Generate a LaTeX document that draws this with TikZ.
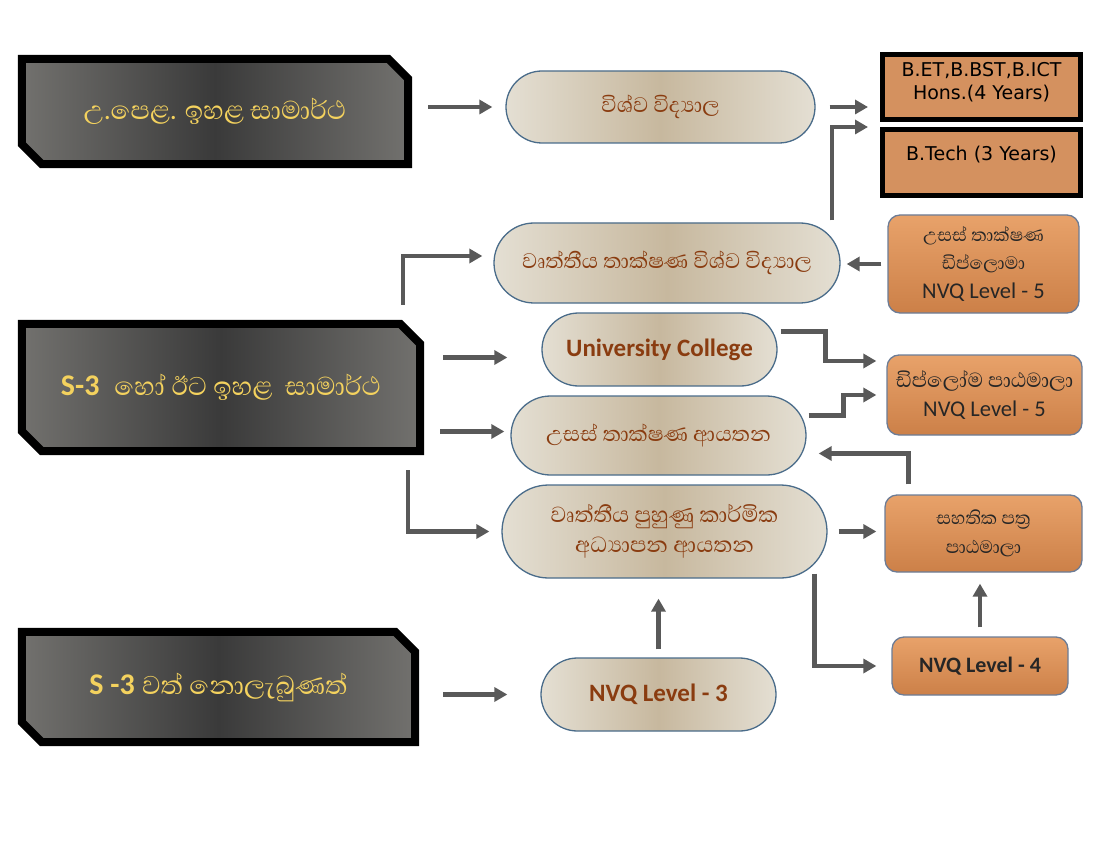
\documentclass[tikz,border=0pt]{standalone}
\usepackage{fontspec}
\setmainfont{Carlito}
\newfontfamily\sinfont[Script=Sinhala]{Abhaya Libre}
\newfontfamily\dvfont{DejaVu Sans}
\usetikzlibrary{shapes.misc,arrows.meta,calc,backgrounds}
\definecolor{dkedge}{RGB}{114,113,110}
\definecolor{dkmid}{RGB}{58,58,58}
\definecolor{gold}{RGB}{244,210,94}
\definecolor{pilledge}{RGB}{228,223,211}
\definecolor{pillmid}{RGB}{199,184,158}
\definecolor{pillline}{RGB}{74,108,138}
\definecolor{orgtop}{RGB}{232,162,106}
\definecolor{orgbot}{RGB}{204,128,72}
\definecolor{orgline}{RGB}{108,124,150}
\definecolor{degfill}{RGB}{212,145,95}
\definecolor{brn}{RGB}{138,60,16}
\definecolor{arrgray}{RGB}{89,89,89}
\newcommand{\fs}[2]{\fontsize{#1}{#2}\selectfont}
\newcommand{\chamferframe}[1]{
  \begin{scope}[on background layer]
    \draw[darkframe] (#1.north west) -- ($(#1.north east)+(-20,0)$) -- ($(#1.north east)+(0,20)$)
      -- (#1.south east) -- ($(#1.south west)+(20,0)$) -- ($(#1.south west)+(0,-20)$) -- cycle;
  \end{scope}
}
\tikzset{
  darkbox/.style={rectangle, inner sep=0pt, text=gold, font=\fs{33}{38}},
  darkframe/.style={draw=black, line width=8pt, left color=dkedge, right color=dkedge, middle color=dkmid},
  pill/.style={rounded rectangle, draw=pillline, line width=1.3pt, left color=pilledge,
    right color=pilledge, middle color=pillmid, text=brn, inner sep=0pt, align=center, font=\fs{27}{30}},
  orgbox/.style={rectangle, rounded corners=12pt, draw=orgline, line width=1.3pt, top color=orgtop,
    bottom color=orgbot, text=black!85, inner sep=0pt, align=center, font=\fs{23}{28.5}},
  degbox/.style={rectangle, draw=black, line width=5pt, fill=degfill, inner sep=0pt, align=center,
    font=\dvfont\fs{19}{23}},
  arr/.style={draw=arrgray, line width=4.5pt, -{Triangle[length=13pt,width=14pt]}}
}

\begin{document}
\begin{tikzpicture}[x=1pt,y=-1pt]
\useasboundingbox (0,0) rectangle (1100,850);

\node[darkbox, minimum width=386, minimum height=105] (boxA) at (215,111.5) {\sinfont උ.පෙළ. ඉහළ සාමාර්ථ};
\node[darkbox, minimum width=398, minimum height=127] (boxB) at (221,387.5) {{\fs{30}{36}\bfseries S-3}\ \ {\sinfont හෝ ඊට ඉහළ\ \ සාමාර්ථ}};
\node[darkbox, minimum width=393, minimum height=110] (boxC) at (218.5,687) {{\fs{30}{36}\bfseries S -3} {\sinfont වත් නොලැබුණත්}};
\chamferframe{boxA}\chamferframe{boxB}\chamferframe{boxC}

\node[pill, minimum width=309, minimum height=72] (uni) at (660.5,107) {\sinfont විශ්ව විද්^^^^200dයාල};
\node[pill, minimum width=346, minimum height=80] (vtu) at (667,263) {\sinfont වෘත්තීය තාක්ෂණ විශ්ව විද්^^^^200dයාල};
\node[pill, minimum width=235, minimum height=73, font=\fs{25}{28}\bfseries] (uc) at (659.5,349.5) {University College};
\node[pill, minimum width=295, minimum height=79] (ut) at (658.5,435.5) {\sinfont උසස් තාක්ෂණ ආයතන};
\node[pill, minimum width=325, minimum height=93, font=\fs{28}{30}] (voc) at (664.5,531.5) {{\sinfont වෘත්තීය පුහුණු කාර්මික}\\{\sinfont අධ්^^^^200dයාපන ආයතන}};
\node[pill, minimum width=235, minimum height=73, font=\fs{25}{28}\bfseries] (nvq3) at (658.5,694.5) {NVQ Level - 3};

\node[orgbox, minimum width=191, minimum height=98] (hnd) at (983.5,264) {{\sinfont උසස් තාක්ෂණ}\\{\sinfont ඩිප්ලොමා}\\{\fs{22.5}{28}NVQ Level - 5}};
\node[orgbox, minimum width=195, minimum height=80] (dipl) at (984.5,395) {{\fs{26}{28}\sinfont ඩිප්ලෝම පාඨමාලා}\\{\fs{22.5}{28}NVQ Level - 5}};
\node[orgbox, minimum width=197, minimum height=77] (cert) at (983.5,533.5) {{\sinfont සහතික පත්^^^^200dර}\\{\sinfont පාඨමාලා}};
\node[orgbox, minimum width=176, minimum height=58, font=\fs{22}{28}\bfseries] (nvq4) at (980,666) {NVQ Level - 4};

\node[degbox, minimum width=198, minimum height=65, text depth=12pt] (bsc) at (981.5,87) {B.ET,B.BST,B.ICT\\Hons.(4 Years)};
\node[degbox, minimum width=198, minimum height=66, text depth=18pt] (btech) at (981.5,162.5) {B.Tech (3 Years)};

\draw[arr, shorten <=20pt, shorten >=13pt] (boxA.east |- uni.west) -- (uni.west);
\draw[arr, shorten <=14pt, shorten >=12pt] (uni.east) -- (uni.east -| bsc.west);
\draw[arr, shorten <=2pt, shorten >=12pt] ($(vtu.north)+(165,0)$) |- (btech.north west);
\draw[arr, shorten <=6pt, shorten >=6pt] (hnd.west) -- (hnd.west -| vtu.east);
\draw[arr, shorten <=19pt, shorten >=11pt] ($(boxB.north)+(182,0)$) |- ($(vtu.west)+(0,-7)$);
\draw[arr, shorten <=23pt, shorten >=34pt] ($(boxB.east |- uc.west)+(0,8)$) -- ($(uc.west)+(0,8)$);
\draw[arr, shorten <=3pt, shorten >=10pt] ($(uc.east)+(0,-18)$) -- ++(48,0) |- ($(dipl.west)+(0,-34)$);
\draw[arr, shorten <=20pt, shorten >=6pt] ($(boxB.east |- ut.west)+(0,-4)$) -- ($(ut.west)+(0,-4)$);
\draw[arr, shorten <=2pt, shorten >=10pt] ($(ut.east)+(0,-20)$) -- ++(37,0) |- (dipl.west);
\draw[arr, shorten <=10pt, shorten >=12pt] ($(cert.north)+(-75,0)$) |- ($(ut.east)+(0,18)$);
\draw[arr, shorten <=19pt, shorten >=12pt] ($(boxB.south)+(187,0)$) |- (voc.west);
\draw[arr, shorten <=11pt, shorten >=8pt] (voc.east) -- (voc.east -| cert.west);
\draw[arr, shorten >=15pt] ($(voc.south)+(150,-5)$) |- (nvq4.west);
\draw[arr, shorten <=9pt, shorten >=11pt] (nvq4.north) -- (nvq4.north |- cert.south);
\draw[arr, shorten <=28pt, shorten >=33pt] (boxC.east |- nvq3.west) -- (nvq3.west);
\draw[arr, shorten <=8pt, shorten >=20pt] (nvq3.north) -- (nvq3.north |- voc.south);
\end{tikzpicture}
\end{document}
